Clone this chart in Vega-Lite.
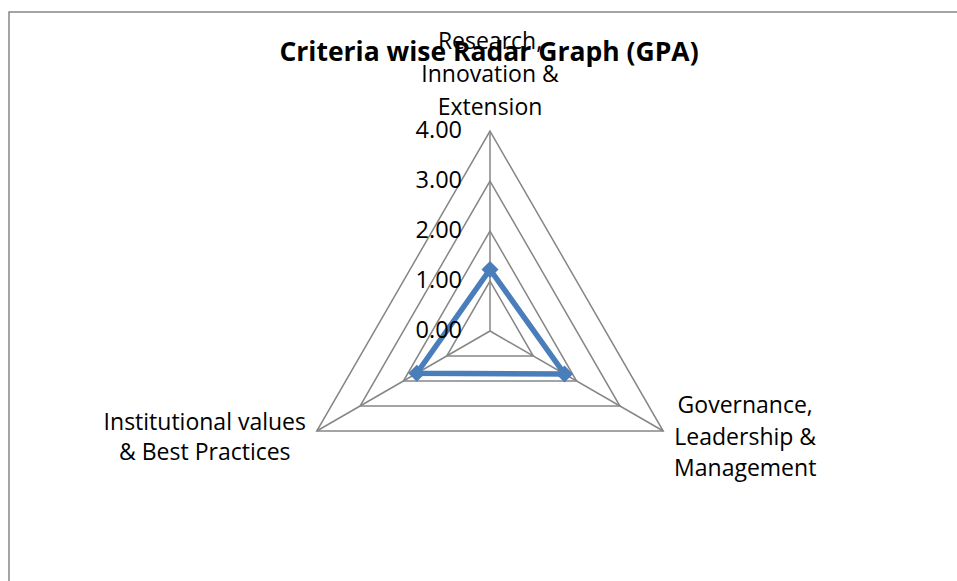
{
  "$schema": "https://vega.github.io/schema/vega-lite/v6.json",
  "autosize": "none",
  "width": 960,
  "height": 590,
  "padding": {"left": 9, "top": 12, "right": -12, "bottom": -21},
  "background": "white",
  "config": {"view": {"stroke": "#868686", "strokeWidth": 1.5}, "font": "Open Sans"},
  "title": {"text": "Criteria wise Radar Graph (GPA)", "font": "Open Sans", "fontSize": 26.5, "fontWeight": "bold", "color": "#000000", "anchor": "middle", "frame": "group", "baseline": "alphabetic", "offset": -75},
  "datasets": {
    "criteria": [
      {"criterion": "Research, Innovation & Extension", "label": "Research,\nInnovation &\nExtension", "idx": 0, "gpa": 1.23},
      {"criterion": "Governance, Leadership & Management", "label": "Governance,\nLeadership &\nManagement", "idx": 1, "gpa": 1.72},
      {"criterion": "Institutional values & Best Practices", "label": "Institutional values\n& Best Practices", "idx": 2, "gpa": 1.69}
    ],
    "grid": [
      {"level": 1, "idx": 0}, {"level": 1, "idx": 1}, {"level": 1, "idx": 2},
      {"level": 2, "idx": 0}, {"level": 2, "idx": 1}, {"level": 2, "idx": 2},
      {"level": 3, "idx": 0}, {"level": 3, "idx": 1}, {"level": 3, "idx": 2},
      {"level": 4, "idx": 0}, {"level": 4, "idx": 1}, {"level": 4, "idx": 2}
    ],
    "spokes": [
      {"idx": 0, "r": 0}, {"idx": 0, "r": 4},
      {"idx": 1, "r": 0}, {"idx": 1, "r": 4},
      {"idx": 2, "r": 0}, {"idx": 2, "r": 4}
    ],
    "levels": [{"level": 0}, {"level": 1}, {"level": 2}, {"level": 3}, {"level": 4}]
  },
  "layer": [
    {
      "data": {"name": "grid"},
      "transform": [
        {"calculate": "datum.level * sin(datum.idx * 2 * PI / 3)", "as": "gx"},
        {"calculate": "datum.level * cos(datum.idx * 2 * PI / 3)", "as": "gy"}
      ],
      "mark": {"type": "line", "interpolate": "linear-closed", "color": "#868686", "strokeWidth": 1.5},
      "encoding": {
        "x": {"field": "gx", "type": "quantitative", "scale": {"domain": [-9.62, 9.58], "nice": false, "zero": false}, "axis": null},
        "y": {"field": "gy", "type": "quantitative", "scale": {"domain": [-5.42, 6.38], "nice": false, "zero": false}, "axis": null},
        "detail": {"field": "level", "type": "nominal"},
        "order": {"field": "idx", "type": "quantitative"}
      }
    },
    {
      "data": {"name": "spokes"},
      "transform": [
        {"calculate": "datum.r * sin(datum.idx * 2 * PI / 3)", "as": "sx"},
        {"calculate": "datum.r * cos(datum.idx * 2 * PI / 3)", "as": "sy"}
      ],
      "mark": {"type": "line", "color": "#868686", "strokeWidth": 1.5},
      "encoding": {
        "x": {"field": "sx", "type": "quantitative", "scale": {"domain": [-9.62, 9.58], "nice": false, "zero": false}, "axis": null},
        "y": {"field": "sy", "type": "quantitative", "scale": {"domain": [-5.42, 6.38], "nice": false, "zero": false}, "axis": null},
        "detail": {"field": "idx", "type": "nominal"},
        "order": {"field": "r", "type": "quantitative"}
      }
    },
    {
      "data": {"name": "criteria"},
      "transform": [
        {"calculate": "datum.gpa * sin(datum.idx * 2 * PI / 3)", "as": "px"},
        {"calculate": "datum.gpa * cos(datum.idx * 2 * PI / 3)", "as": "py"}
      ],
      "mark": {"type": "line", "interpolate": "linear-closed", "color": "#4A7EBB", "strokeWidth": 5.5, "strokeJoin": "miter"},
      "encoding": {
        "x": {"field": "px", "type": "quantitative", "scale": {"domain": [-9.62, 9.58], "nice": false, "zero": false}, "axis": null},
        "y": {"field": "py", "type": "quantitative", "scale": {"domain": [-5.42, 6.38], "nice": false, "zero": false}, "axis": null},
        "order": {"field": "idx", "type": "quantitative"}
      }
    },
    {
      "data": {"name": "criteria"},
      "transform": [
        {"calculate": "datum.gpa * sin(datum.idx * 2 * PI / 3)", "as": "px"},
        {"calculate": "datum.gpa * cos(datum.idx * 2 * PI / 3)", "as": "py"}
      ],
      "mark": {"type": "point", "shape": "diamond", "filled": true, "size": 290, "color": "#4A7EBB", "opacity": 1},
      "encoding": {
        "x": {"field": "px", "type": "quantitative", "scale": {"domain": [-9.62, 9.58], "nice": false, "zero": false}, "axis": null},
        "y": {"field": "py", "type": "quantitative", "scale": {"domain": [-5.42, 6.38], "nice": false, "zero": false}, "axis": null}
      }
    },
    {
      "data": {"name": "levels"},
      "transform": [{"calculate": "0", "as": "zx"}],
      "mark": {"type": "text", "align": "right", "baseline": "middle", "dx": -28, "fontSize": 23.5, "color": "#000000", "font": "Open Sans"},
      "encoding": {
        "x": {"field": "zx", "type": "quantitative", "scale": {"domain": [-9.62, 9.58], "nice": false, "zero": false}, "axis": null},
        "y": {"field": "level", "type": "quantitative", "scale": {"domain": [-5.42, 6.38], "nice": false, "zero": false}, "axis": null},
        "text": {"field": "level", "type": "quantitative", "format": ".2f"}
      }
    },
    {
      "data": {"name": "criteria"},
      "transform": [
        {"filter": "datum.idx == 0"},
        {"calculate": "4 * sin(datum.idx * 2 * PI / 3)", "as": "vx"},
        {"calculate": "4 * cos(datum.idx * 2 * PI / 3)", "as": "vy"}
      ],
      "mark": {"type": "text", "align": "center", "baseline": "bottom", "dy": -77, "lineBreak": "\n", "lineHeight": 33, "fontSize": 23, "color": "#000000", "font": "Open Sans"},
      "encoding": {
        "x": {"field": "vx", "type": "quantitative", "scale": {"domain": [-9.62, 9.58], "nice": false, "zero": false}, "axis": null},
        "y": {"field": "vy", "type": "quantitative", "scale": {"domain": [-5.42, 6.38], "nice": false, "zero": false}, "axis": null},
        "text": {"field": "label", "type": "nominal"}
      }
    },
    {
      "data": {"name": "criteria"},
      "transform": [
        {"filter": "datum.idx == 1"},
        {"calculate": "4 * sin(datum.idx * 2 * PI / 3)", "as": "vx"},
        {"calculate": "4 * cos(datum.idx * 2 * PI / 3)", "as": "vy"}
      ],
      "mark": {"type": "text", "align": "center", "baseline": "middle", "dx": 82, "dy": -25, "lineBreak": "\n", "lineHeight": 31.5, "fontSize": 23, "color": "#000000", "font": "Open Sans"},
      "encoding": {
        "x": {"field": "vx", "type": "quantitative", "scale": {"domain": [-9.62, 9.58], "nice": false, "zero": false}, "axis": null},
        "y": {"field": "vy", "type": "quantitative", "scale": {"domain": [-5.42, 6.38], "nice": false, "zero": false}, "axis": null},
        "text": {"field": "label", "type": "nominal"}
      }
    },
    {
      "data": {"name": "criteria"},
      "transform": [
        {"filter": "datum.idx == 2"},
        {"calculate": "4 * sin(datum.idx * 2 * PI / 3)", "as": "vx"},
        {"calculate": "4 * cos(datum.idx * 2 * PI / 3)", "as": "vy"}
      ],
      "mark": {"type": "text", "align": "center", "baseline": "middle", "dx": -112, "dy": -8, "lineBreak": "\n", "lineHeight": 30, "fontSize": 23, "color": "#000000", "font": "Open Sans"},
      "encoding": {
        "x": {"field": "vx", "type": "quantitative", "scale": {"domain": [-9.62, 9.58], "nice": false, "zero": false}, "axis": null},
        "y": {"field": "vy", "type": "quantitative", "scale": {"domain": [-5.42, 6.38], "nice": false, "zero": false}, "axis": null},
        "text": {"field": "label", "type": "nominal"}
      }
    }
  ]
}
